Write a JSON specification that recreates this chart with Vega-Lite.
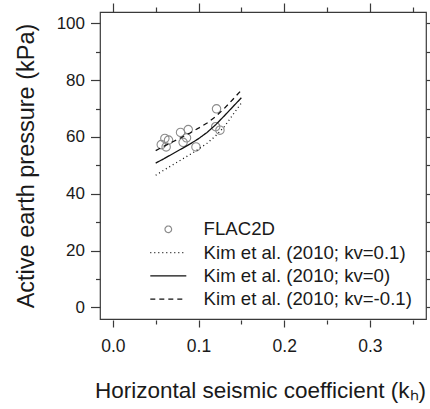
{
  "$schema": "https://vega.github.io/schema/vega-lite/v6.json",
  "width": 326,
  "height": 307,
  "autosize": {"type": "none"},
  "padding": {"left": 100, "top": 12, "right": 4, "bottom": 90},
  "background": "white",
  "config": {
    "view": {"stroke": "#3a3a3a", "strokeWidth": 1.2},
    "font": "Liberation Sans",
    "axis": {"grid": false, "domain": false, "tickColor": "#3a3a3a", "tickWidth": 1.2, "labelColor": "#1a1a1a", "titleColor": "#1a1a1a", "labelFont": "Liberation Sans", "titleFont": "Liberation Sans", "titleFontWeight": "normal"},
    "legend": {"orient": "none", "legendX": 59, "legendY": 208, "padding": 0, "labelFont": "Liberation Sans", "labelFontSize": 18.6, "labelColor": "#1a1a1a", "symbolSize": 256, "symbolStrokeWidth": 1.2, "rowPadding": 4.3, "labelOffset": 26, "labelLimit": 400}
  },
  "datasets": {
    "pts": [
      {"series": "FLAC2D", "kh": 0.0565, "p": 57.3},
      {"series": "FLAC2D", "kh": 0.0607, "p": 59.5},
      {"series": "FLAC2D", "kh": 0.065, "p": 58.9},
      {"series": "FLAC2D", "kh": 0.0622, "p": 56.5},
      {"series": "FLAC2D", "kh": 0.079, "p": 61.6},
      {"series": "FLAC2D", "kh": 0.082, "p": 58.1},
      {"series": "FLAC2D", "kh": 0.086, "p": 59.7},
      {"series": "FLAC2D", "kh": 0.088, "p": 62.6},
      {"series": "FLAC2D", "kh": 0.097, "p": 56.5},
      {"series": "FLAC2D", "kh": 0.121, "p": 69.9},
      {"series": "FLAC2D", "kh": 0.120, "p": 63.6},
      {"series": "FLAC2D", "kh": 0.125, "p": 62.4}
    ],
    "curves": [
      {"series": "Kim et al. (2010; kv=0.1)", "kh": 0.05, "p": 46.5},
      {"series": "Kim et al. (2010; kv=0.1)", "kh": 0.06, "p": 48.4},
      {"series": "Kim et al. (2010; kv=0.1)", "kh": 0.07, "p": 50.2},
      {"series": "Kim et al. (2010; kv=0.1)", "kh": 0.08, "p": 52.0},
      {"series": "Kim et al. (2010; kv=0.1)", "kh": 0.09, "p": 53.8},
      {"series": "Kim et al. (2010; kv=0.1)", "kh": 0.10, "p": 55.7},
      {"series": "Kim et al. (2010; kv=0.1)", "kh": 0.11, "p": 57.8},
      {"series": "Kim et al. (2010; kv=0.1)", "kh": 0.12, "p": 60.4},
      {"series": "Kim et al. (2010; kv=0.1)", "kh": 0.13, "p": 63.6},
      {"series": "Kim et al. (2010; kv=0.1)", "kh": 0.14, "p": 67.8},
      {"series": "Kim et al. (2010; kv=0.1)", "kh": 0.15, "p": 72.0},
      {"series": "Kim et al. (2010; kv=0)", "kh": 0.05, "p": 50.8},
      {"series": "Kim et al. (2010; kv=0)", "kh": 0.06, "p": 52.4},
      {"series": "Kim et al. (2010; kv=0)", "kh": 0.07, "p": 54.1},
      {"series": "Kim et al. (2010; kv=0)", "kh": 0.08, "p": 55.8},
      {"series": "Kim et al. (2010; kv=0)", "kh": 0.09, "p": 57.5},
      {"series": "Kim et al. (2010; kv=0)", "kh": 0.10, "p": 59.4},
      {"series": "Kim et al. (2010; kv=0)", "kh": 0.11, "p": 61.6},
      {"series": "Kim et al. (2010; kv=0)", "kh": 0.12, "p": 64.3},
      {"series": "Kim et al. (2010; kv=0)", "kh": 0.13, "p": 67.4},
      {"series": "Kim et al. (2010; kv=0)", "kh": 0.14, "p": 70.6},
      {"series": "Kim et al. (2010; kv=0)", "kh": 0.15, "p": 73.8},
      {"series": "Kim et al. (2010; kv=-0.1)", "kh": 0.05, "p": 55.2},
      {"series": "Kim et al. (2010; kv=-0.1)", "kh": 0.06, "p": 56.8},
      {"series": "Kim et al. (2010; kv=-0.1)", "kh": 0.07, "p": 58.3},
      {"series": "Kim et al. (2010; kv=-0.1)", "kh": 0.08, "p": 59.8},
      {"series": "Kim et al. (2010; kv=-0.1)", "kh": 0.09, "p": 61.4},
      {"series": "Kim et al. (2010; kv=-0.1)", "kh": 0.10, "p": 63.1},
      {"series": "Kim et al. (2010; kv=-0.1)", "kh": 0.11, "p": 64.9},
      {"series": "Kim et al. (2010; kv=-0.1)", "kh": 0.12, "p": 67.2},
      {"series": "Kim et al. (2010; kv=-0.1)", "kh": 0.13, "p": 70.0},
      {"series": "Kim et al. (2010; kv=-0.1)", "kh": 0.14, "p": 73.2},
      {"series": "Kim et al. (2010; kv=-0.1)", "kh": 0.15, "p": 76.5}
    ]
  },
  "layer": [
    {
      "data": {"name": "pts"},
      "mark": {"type": "point", "filled": false, "size": 415, "strokeWidth": 1.1, "opacity": 1},
      "encoding": {
        "x": {
          "field": "kh", "type": "quantitative",
          "scale": {"domain": [-0.015, 0.3655], "nice": false, "zero": false},
          "axis": {
            "orient": "bottom", "offset": 1,
            "values": [0, 0.05, 0.1, 0.15, 0.2, 0.25, 0.3, 0.35],
            "labelExpr": "abs(datum.value*10 - round(datum.value*10)) < 0.000001 ? format(datum.value, '.1f') : ''",
            "tickSize": {"condition": {"test": "abs(datum.value*10 - round(datum.value*10)) < 0.000001", "value": 7}, "value": 4},
            "labelFontSize": 17.5, "labelPadding": 10.5, "labelFlush": false, "labelOverlap": false,
            "title": "Horizontal seismic coefficient (kₕ)", "titleFontSize": 22.5, "titlePadding": 24, "titleX": 160
          }
        },
        "y": {
          "field": "p", "type": "quantitative",
          "scale": {"domain": [-4.1, 104.0], "nice": false, "zero": false},
          "axis": {
            "orient": "left",
            "values": [0, 10, 20, 30, 40, 50, 60, 70, 80, 90, 100],
            "labelExpr": "datum.value % 20 === 0 ? datum.label : ''",
            "tickSize": {"condition": {"test": "datum.value % 20 === 0", "value": 9.5}, "value": 4.5},
            "labelFontSize": 17, "labelPadding": 6, "labelFlush": false, "labelOverlap": false,
            "title": "Active earth pressure (kPa)", "titleFontSize": 23.5, "titlePadding": 18
          }
        },
        "shape": {
          "field": "series", "type": "nominal",
          "scale": {
            "domain": ["FLAC2D", "Kim et al. (2010; kv=0.1)", "Kim et al. (2010; kv=0)", "Kim et al. (2010; kv=-0.1)"],
            "range": ["M-0.4125,0A0.4125,0.4125,0,1,1,0.4125,0A0.4125,0.4125,0,1,1,-0.4125,0Z", "M-2.25,0L2.25,0", "M-2.25,0L2.25,0", "M-2.25,0L2.25,0"]
          },
          "legend": {"title": null}
        },
        "stroke": {
          "field": "series", "type": "nominal",
          "scale": {
            "domain": ["FLAC2D", "Kim et al. (2010; kv=0.1)", "Kim et al. (2010; kv=0)", "Kim et al. (2010; kv=-0.1)"],
            "range": ["#8c8c8c", "#111111", "#111111", "#111111"]
          },
          "legend": {"title": null}
        }
      }
    },
    {
      "data": {"name": "curves"},
      "mark": {"type": "line", "strokeWidth": 1.3},
      "encoding": {
        "x": {
          "field": "kh", "type": "quantitative",
          "axis": {
            "orient": "top",
            "values": [0, 0.05, 0.1, 0.15, 0.2, 0.25, 0.3, 0.35],
            "labels": false,
            "tickSize": {"condition": {"test": "abs(datum.value*10 - round(datum.value*10)) < 0.000001", "value": 9}, "value": 5},
            "title": null
          }
        },
        "y": {
          "field": "p", "type": "quantitative",
          "axis": {
            "orient": "right",
            "values": [0, 10, 20, 30, 40, 50, 60, 70, 80, 90, 100],
            "labels": false,
            "tickSize": 6,
            "title": null
          }
        },
        "strokeDash": {
          "field": "series", "type": "nominal",
          "scale": {
            "domain": ["FLAC2D", "Kim et al. (2010; kv=0.1)", "Kim et al. (2010; kv=0)", "Kim et al. (2010; kv=-0.1)"],
            "range": [[1, 0], [1, 3], [1, 0], [5, 4]]
          },
          "legend": {"title": null}
        },
        "stroke": {
          "field": "series", "type": "nominal",
          "legend": {"title": null}
        }
      }
    }
  ],
  "resolve": {"axis": {"x": "independent", "y": "independent"}}
}
